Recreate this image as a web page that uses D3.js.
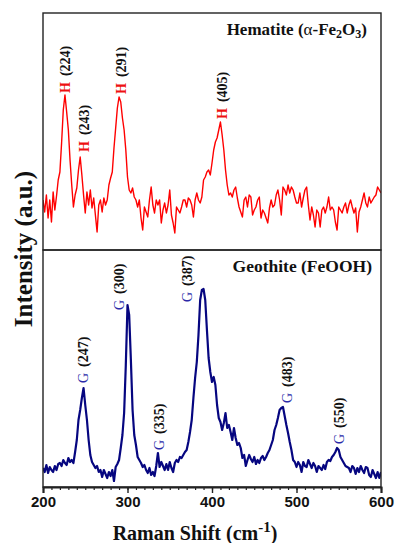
<!DOCTYPE html>
<html>
<head>
<meta charset="utf-8">
<script src="https://cdn.jsdelivr.net/npm/d3@7"></script>
<style>
body { margin: 0; background: #fff; }
svg { display: block; }
</style>
</head>
<body>
<svg id="chart" width="395" height="543"></svg>
<script>

// Raman shift grid (cm-1), one reading every 2 cm-1
var ramanShift = d3.range(200, 601, 2);

// intensities (a.u.)
var hematiteIntensity = [
    50, 38, 55, 32, 50, 28, 58, 40, 54, 70,       // 200
    78, 107, 140, 155, 138, 120, 90, 65, 43, 55,  // 220
    62, 80, 93, 75, 55, 37, 58, 45, 60, 42,       // 240
    52, 35, 18, 45, 50, 38, 52, 45, 50, 65,       // 260
    72, 78, 102, 122, 142, 153, 148, 132, 120, 100, // 280
    73, 60, 57, 62, 53, 50, 43, 50, 32, 20,       // 300
    43, 38, 33, 50, 63, 45, 37, 50, 45, 50,       // 320
    27, 40, 47, 37, 45, 60, 35, 27, 17, 43,       // 340
    40, 37, 43, 50, 50, 43, 52, 50, 45, 33,       // 360
    50, 57, 50, 47, 53, 70, 73, 78, 80, 75,       // 380
    87, 100, 108, 112, 120, 128, 115, 100, 80, 65, // 400
    55, 57, 53, 60, 63, 52, 43, 38, 33, 50,       // 420
    53, 43, 55, 53, 35, 40, 43, 50, 53, 32,       // 440
    40, 37, 32, 27, 42, 50, 43, 45, 55, 60,       // 460
    50, 35, 63, 60, 55, 65, 57, 63, 60, 53,       // 480
    47, 47, 57, 43, 52, 60, 63, 45, 30, 43,       // 500
    35, 23, 40, 37, 23, 40, 43, 37, 43, 53,       // 520
    40, 43, 40, 28, 20, 43, 40, 37, 43, 47,       // 540
    37, 45, 50, 43, 37, 42, 18, 38, 43, 50,       // 560
    57, 47, 43, 53, 47, 50, 53, 55, 63, 60,       // 580
    57                                            // 600
];

var goethiteIntensity = [
    19, 15, 22, 14, 20, 17, 15, 21, 17, 23,       // 200
    24, 21, 27, 24, 22, 29, 25, 27, 24, 35,       // 220
    47, 67, 77, 89, 99, 82, 67, 47, 32, 25,       // 240
    22, 19, 21, 15, 17, 10, 17, 13, 9, 15,        // 260
    11, 17, 6, 20, 23, 27, 39, 52, 74, 122,       // 280
    182, 172, 127, 77, 52, 42, 30, 27, 24, 20,    // 300
    22, 17, 14, 19, 12, 15, 11, 21, 34, 20,       // 320
    25, 21, 17, 23, 17, 25, 19, 15, 24, 27,       // 340
    25, 30, 29, 32, 35, 37, 45, 55, 67, 89,       // 360
    109, 125, 152, 187, 197, 198, 187, 157, 129, 115, // 380
    105, 110, 102, 82, 69, 65, 57, 64, 74, 59,    // 400
    62, 55, 47, 59, 49, 42, 44, 39, 29, 32,       // 420
    21, 27, 32, 28, 25, 30, 23, 27, 24, 29,       // 440
    31, 27, 30, 34, 37, 42, 47, 57, 62, 69,       // 460
    77, 79, 80, 71, 62, 54, 45, 37, 27, 25,       // 480
    20, 25, 22, 15, 25, 21, 20, 27, 23, 19,       // 500
    24, 21, 15, 21, 19, 17, 22, 18, 25, 27,       // 520
    26, 30, 32, 35, 39, 37, 30, 27, 24, 21,       // 540
    20, 19, 15, 21, 19, 13, 19, 15, 21, 17,       // 560
    14, 20, 19, 12, 10, 17, 13, 9, 15, 9,         // 580
    15                                            // 600
];

// peak annotations: name, where the label stands (shift) and its foot (intensity)
var hematitePeaks = [224, 243, 291, 405];
var hematiteLabelShift = [226, 248, 292, 412];
var hematiteLabelLevel = [157, 98, 156, 131];

var goethitePeaks = [247, 300, 335, 387, 483, 550];
var goethiteLabelShift = [247, 290, 337, 370, 489, 550];
var goethiteLabelLevel = [104, 177, 37, 185, 84, 43];

var xMajorTicks = [200, 300, 400, 500, 600];
var xMinorTicks = d3.range(200, 601, 10);


var serif = "'Liberation Serif', 'Times New Roman', serif";
var sans = "'Liberation Sans', Arial, sans-serif";

var plotLeft = 43, plotRight = 381, plotTop = 13, plotMid = 250, plotBottom = 487;

var svg = d3.select("#chart");

var x = d3.scaleLinear().domain([200, 600]).range([plotLeft, plotRight]);
var yHem = d3.scaleLinear().domain([0, 237]).range([plotMid, plotTop]);
var yGoe = d3.scaleLinear().domain([0, 237]).range([plotBottom, plotMid]);

var defs = svg.append("defs");
defs.append("clipPath").attr("id", "clipTop")
    .append("rect").attr("x", plotLeft).attr("y", plotTop)
    .attr("width", plotRight - plotLeft).attr("height", plotMid - plotTop);
defs.append("clipPath").attr("id", "clipBot")
    .append("rect").attr("x", plotLeft).attr("y", plotMid)
    .attr("width", plotRight - plotLeft).attr("height", plotBottom - plotMid);


function DrawSpectrum(values, yScale, clipId, color, width) {
    var line = d3.line()
        .x(function(d, i) {
            return x(ramanShift[i]);
        })
        .y(function(d) {
            return yScale(d);
        });

    svg.append("path")
        .datum(values)
        .attr("clip-path", "url(#" + clipId + ")")
        .attr("fill", "none")
        .attr("stroke", color)
        .attr("stroke-width", width)
        .attr("stroke-linejoin", "round")
        .attr("d", line);
}

DrawSpectrum(hematiteIntensity, yHem, "clipTop", "#ff0000", 1.4);
DrawSpectrum(goethiteIntensity, yGoe, "clipBot", "#060680", 2.2);


function DrawPeakLabels(peaks, shifts, levels, yScale, letter, letterColor, letterWeight) {
    var labels = svg.selectAll(null)
        .data(peaks)
        .enter().append("text")
        .attr("transform", function(d, i) {
            return "translate(" + x(shifts[i]) + "," + yScale(levels[i]) + ") rotate(-90)";
        })
        .attr("text-anchor", "start")
        .attr("dominant-baseline", "central")
        .style("font-family", serif)
        .style("font-size", "14px");

    labels.append("tspan")
        .attr("fill", letterColor)
        .style("font-weight", letterWeight)
        .text(letter);

    labels.append("tspan")
        .attr("dx", 6)
        .attr("fill", "#111")
        .style("font-weight", "bold")
        .text(function(d) {
            return "(" + d + ")";
        });
}

DrawPeakLabels(hematitePeaks, hematiteLabelShift, hematiteLabelLevel, yHem, "H", "#ee1111", "bold");
DrawPeakLabels(goethitePeaks, goethiteLabelShift, goethiteLabelLevel, yGoe, "G", "#2a2aa8", "normal");


// frames
svg.append("rect")
    .attr("x", plotLeft).attr("y", plotTop)
    .attr("width", plotRight - plotLeft).attr("height", plotMid - plotTop)
    .attr("fill", "none").attr("stroke", "#222").attr("stroke-width", 1.4);
svg.append("rect")
    .attr("x", plotLeft).attr("y", plotMid)
    .attr("width", plotRight - plotLeft).attr("height", plotBottom - plotMid)
    .attr("fill", "none").attr("stroke", "#222").attr("stroke-width", 1.4);

// bottom axis: minor then major ticks
svg.append("g")
    .attr("transform", "translate(0," + plotBottom + ")")
    .call(d3.axisBottom(x).tickValues(xMinorTicks).tickSize(3).tickFormat(""))
    .call(function(g) { g.select(".domain").remove(); })
    .selectAll("line").attr("stroke", "#222").attr("stroke-width", 1.2);

var xAxis = svg.append("g")
    .attr("transform", "translate(0," + plotBottom + ")")
    .call(d3.axisBottom(x).tickValues(xMajorTicks).tickSize(6).tickPadding(3).tickFormat(d3.format("d")));
xAxis.select(".domain").attr("stroke", "#222").attr("stroke-width", 2);
xAxis.selectAll("line").attr("stroke", "#222").attr("stroke-width", 1.4);
xAxis.selectAll("text")
    .attr("fill", "#111")
    .style("font-family", sans)
    .style("font-weight", "bold")
    .style("font-size", "15px");


// titles
svg.append("text")
    .attr("x", 367).attr("y", 35)
    .attr("text-anchor", "end")
    .style("font-family", serif).style("font-weight", "bold").style("font-size", "17px")
    .attr("fill", "#111")
    .call(function(t) {
        t.append("tspan").text("Hematite (");
        t.append("tspan").style("font-weight", "normal").text("\u03b1");
        t.append("tspan").text("-Fe");
        t.append("tspan").attr("dy", 3).style("font-size", "12px").text("2");
        t.append("tspan").attr("dy", -3).text("O");
        t.append("tspan").attr("dy", 3).style("font-size", "12px").text("3");
        t.append("tspan").attr("dy", -3).text(")");
    });

svg.append("text")
    .attr("x", 372).attr("y", 272)
    .attr("text-anchor", "end")
    .style("font-family", serif).style("font-weight", "bold").style("font-size", "17.5px")
    .attr("fill", "#111")
    .text("Geothite (FeOOH)");

svg.append("text")
    .attr("x", 195).attr("y", 540)
    .attr("text-anchor", "middle")
    .style("font-family", serif).style("font-weight", "bold").style("font-size", "20px")
    .attr("fill", "#111")
    .call(function(t) {
        t.append("tspan").text("Raman Shift (cm");
        t.append("tspan").attr("dy", -8).style("font-size", "15px").text("-1");
        t.append("tspan").attr("dy", 8).text(")");
    });

svg.append("text")
    .attr("transform", "translate(32,249) rotate(-90)")
    .attr("text-anchor", "middle")
    .style("font-family", serif).style("font-weight", "bold").style("font-size", "25px")
    .attr("fill", "#111")
    .text("Intensity (a.u.)");

</script>
</body>
</html>
